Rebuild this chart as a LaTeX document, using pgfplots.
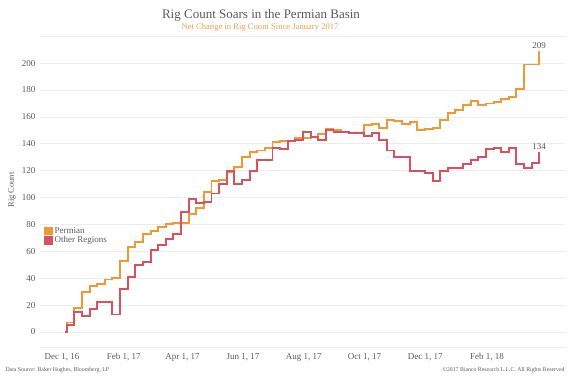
\documentclass[border=0pt]{standalone}
\usepackage{fontspec}
\setmainfont{Liberation Serif}
\usepackage{pgfplots}
\usepackage{pgfplotstable}
\pgfplotsset{compat=1.18}
\definecolor{perm}{RGB}{240,152,52}
\definecolor{oth}{RGB}{214,82,94}
\definecolor{txt}{RGB}{90,90,90}
\definecolor{grd}{RGB}{236,236,236}
\definecolor{sub}{RGB}{232,160,80}
\pgfplotstableread{
d perm other
3.0 0 0
4.7 7 5
12.4 18 15
20.0 30 12
27.7 34 17
35.3 36 22
43.0 39 22
50.7 40 13
58.3 53 32
66.0 63 41
73.6 67 50
81.3 73 52
89.0 75 61
96.6 78 65
104.3 80 69
111.9 81 73
119.6 81 89
127.3 88 99
134.9 92 96
142.6 104 97
150.2 112 103
157.9 113 110
165.6 119 120
173.2 123 110
180.9 130 113
188.5 134 120
196.2 135 128
203.9 137 128
211.5 141 137
219.2 142 136
226.8 142 142
234.5 144 143
242.2 144 149
249.8 145 145
257.5 147 143
265.1 151 150
272.8 150 149
280.5 149 149
288.1 148 148
295.8 148 148
303.4 154 146
311.1 155 148
318.8 152 143
326.4 158 135
334.1 157 130
341.7 155 130
349.4 156 120
357.1 150 120
364.7 151 118
372.4 152 112
380.0 158 120
387.7 163 122
395.4 165 122
403.0 169 125
410.7 172 128
418.3 169 130
426.0 170 136
433.7 171 137
441.3 173 134
449.0 175 137
456.6 181 125
464.3 199 122
472.0 199 126
479.6 209 134
}\rigs
\begin{document}
\begin{tikzpicture}[x=1pt,y=1pt]
\path[use as bounding box] (0,0) rectangle (570,380);
\node[font=\fontsize{13}{15}\selectfont, text=txt] at (261,365) {Rig Count Soars in the Permian Basin};
\node[font=\fontsize{8.6}{10}\selectfont, text=sub] at (260,352.5) {Net Change in Rig Count Since January 2017};
\node[rotate=90, font=\fontsize{8.5}{10}\selectfont, text=txt] at (12,190) {Rig Count};
\begin{axis}[
  at={(40pt,33pt)}, anchor=south west,
  scale only axis, width=525pt, height=311pt,
  xmin=-22.1, xmax=505.5, ymin=-11.2, ymax=220.2,
  separate axis lines,
  x axis line style={draw=grd},
  y axis line style={draw=none},
  major tick length=0pt,
  ymajorgrids, grid style={grd, line width=0.6pt},
  ytick={0,20,40,60,80,100,120,140,160,180,200,220},
  yticklabels={0,20,40,60,80,100,120,140,160,180,200,{}},
  xtick={0,62,121,182,243,304,365,427},
  xticklabels={{Dec 1, 16},{Feb 1, 17},{Apr 1, 17},{Jun 1, 17},{Aug 1, 17},{Oct 1, 17},{Dec 1, 17},{Feb 1, 18}},
  /pgf/number format/assume math mode=true,
  tick label style={font=\fontsize{9}{10}\selectfont, text=txt},
  yticklabel style={xshift=-1pt},
  xticklabel style={yshift=-3pt},
  legend style={at={(0.0076,0.392)}, anchor=north west, draw=none, fill=none,
    font=\fontsize{9}{10}\selectfont, text=txt, row sep=-2pt, inner sep=0pt},
  legend cell align=left,
  legend image code/.code={\fill[#1] (0pt,-3.3pt) rectangle (6.6pt,3.3pt);},
]
\addplot[const plot, perm, line width=1.9pt, line join=miter] table[x=d, y=perm] {\rigs};
\addlegendentry{Permian}
\addplot[const plot, oth, line width=1.9pt, line join=miter] table[x=d, y=other] {\rigs};
\addlegendentry{Other Regions}
\node[font=\fontsize{9}{10}\selectfont, text=txt, anchor=south, inner sep=0pt] at (axis cs:479.6,209) [yshift=2.5pt] {209};
\node[font=\fontsize{9}{10}\selectfont, text=txt, anchor=south, inner sep=0pt] at (axis cs:479.6,134) [yshift=2.5pt] {134};
\end{axis}
\node[anchor=west, font=\fontsize{5.8}{7}\selectfont, text=txt] at (2,10) {Data Source: Baker Hughes, Bloomberg, LP};
\node[anchor=east, font=\fontsize{5.8}{7}\selectfont, text=txt] at (568,10) {\textcopyright 2017 Bianco Research L.L.C. All Rights Reserved};
\end{tikzpicture}
\end{document}
